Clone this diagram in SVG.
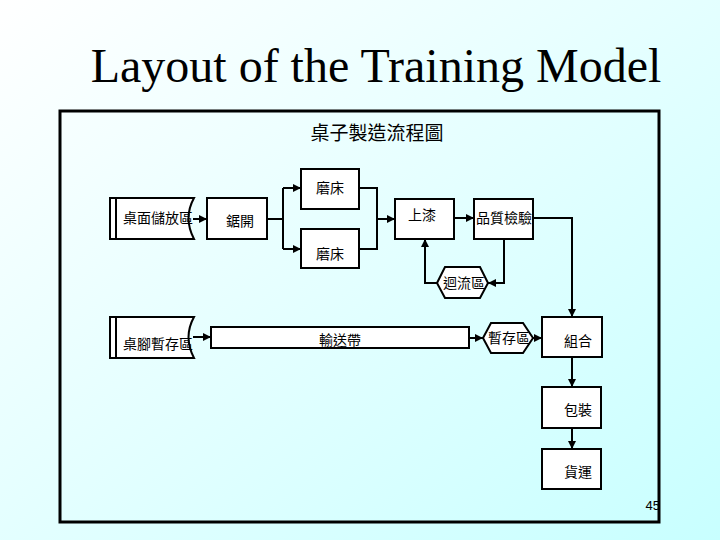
<svg xmlns="http://www.w3.org/2000/svg" width="720" height="540" viewBox="0 0 720 540">
<defs>
<linearGradient id="bg" x1="0" y1="0" x2="1" y2="1">
<stop offset="0" stop-color="#ffffff"/>
<stop offset="1" stop-color="#c8ffff"/>
</linearGradient>
<marker id="ar" viewBox="0 0 10 10" refX="10" refY="5" markerWidth="4" markerHeight="4" orient="auto" markerUnits="strokeWidth">
<path d="M0,0 L10,5 L0,10 z" fill="#000"/>
</marker>
<style>
.box{fill:#fff;stroke:#000;stroke-width:2}
.t{font-family:"Noto Sans CJK TC","Noto Sans CJK SC",sans-serif;font-size:14px;fill:#000;text-anchor:middle}
.c{fill:none;stroke:#000;stroke-width:2}
.a{fill:none;stroke:#000;stroke-width:2;marker-end:url(#ar)}
</style>
</defs>
<rect x="0" y="0" width="720" height="540" fill="url(#bg)"/>
<text x="376" y="82" font-family="Liberation Serif, serif" font-size="48" text-anchor="middle" fill="#000">Layout of the Training Model</text>
<rect x="60" y="111" width="599" height="411" fill="none" stroke="#000" stroke-width="3"/>
<text x="377" y="140" class="t" style="font-size:19px">桌子製造流程圖</text>

<g id="connectors">
<line x1="193" y1="219" x2="207" y2="219" class="a"/>
<polyline points="267,219 283,219" class="c"/>
<line x1="283" y1="188" x2="283" y2="249" class="c"/>
<line x1="283" y1="188" x2="301" y2="188" class="a"/>
<line x1="283" y1="249" x2="301" y2="249" class="a"/>
<polyline points="359,188 377,188 377,249 359,249" class="c"/>
<line x1="377" y1="219" x2="395" y2="219" class="a"/>
<line x1="454" y1="218" x2="474" y2="218" class="a"/>
<polyline points="533,218 572,218 572,317" class="a"/>
<polyline points="504,239 504,283 488,283" class="a"/>
<polyline points="437,283 425,283 425,239" class="a"/>
<line x1="193" y1="337" x2="211" y2="337" class="a"/>
<line x1="469" y1="338" x2="483" y2="338" class="a"/>
<line x1="533" y1="338" x2="542" y2="338" class="a"/>
<line x1="572" y1="357" x2="572" y2="387" class="a"/>
<line x1="572" y1="428" x2="572" y2="449" class="a"/>
</g>

<g id="n1">
<path d="M110,198 L194,198 Q183,218 194,239 L110,239 Z" class="box"/>
<line x1="116" y1="198" x2="116" y2="239" stroke="#000" stroke-width="2"/>
<text x="158" y="223" class="t">桌面儲放區</text>
</g>
<g id="n2">
<rect x="207" y="198" width="60" height="41" class="box"/>
<text x="240" y="226" class="t">鋸開</text>
</g>
<g id="n3">
<rect x="301" y="169" width="58" height="40" class="box"/>
<text x="330" y="193" class="t">磨床</text>
</g>
<g id="n4">
<rect x="301" y="229" width="58" height="39" class="box"/>
<text x="330" y="259" class="t">磨床</text>
</g>
<g id="n5">
<rect x="395" y="199" width="59" height="40" class="box"/>
<text x="422" y="220" class="t">上漆</text>
</g>
<g id="n6">
<rect x="474" y="199" width="59" height="40" class="box"/>
<text x="504" y="223" class="t">品質檢驗</text>
</g>
<g id="n7">
<polygon points="437,283 445,267 480,267 488,283 480,298 445,298" class="box"/>
<text x="464" y="288" class="t">迴流區</text>
</g>
<g id="n8">
<path d="M110,317 L194,317 Q183,337 194,358 L110,358 Z" class="box"/>
<line x1="116" y1="317" x2="116" y2="358" stroke="#000" stroke-width="2"/>
<text x="158" y="349" class="t">桌腳暫存區</text>
</g>
<g id="n9">
<rect x="211" y="327" width="258" height="21" class="box"/>
<text x="340" y="345" class="t">輸送帶</text>
</g>
<g id="n10">
<polygon points="483,338 491,323 523,323 533,338 523,353 491,353" class="box"/>
<text x="509" y="343" class="t">暫存區</text>
</g>
<g id="n11">
<rect x="542" y="317" width="60" height="40" class="box"/>
<text x="578" y="346" class="t">組合</text>
</g>
<g id="n12">
<rect x="542" y="387" width="59" height="41" class="box"/>
<text x="578" y="415" class="t">包裝</text>
</g>
<g id="n13">
<rect x="542" y="449" width="59" height="40" class="box"/>
<text x="578" y="477" class="t">貨運</text>
</g>
<text x="660" y="510" font-family="Liberation Sans, sans-serif" font-size="13" text-anchor="end" fill="#000">45</text>
</svg>
